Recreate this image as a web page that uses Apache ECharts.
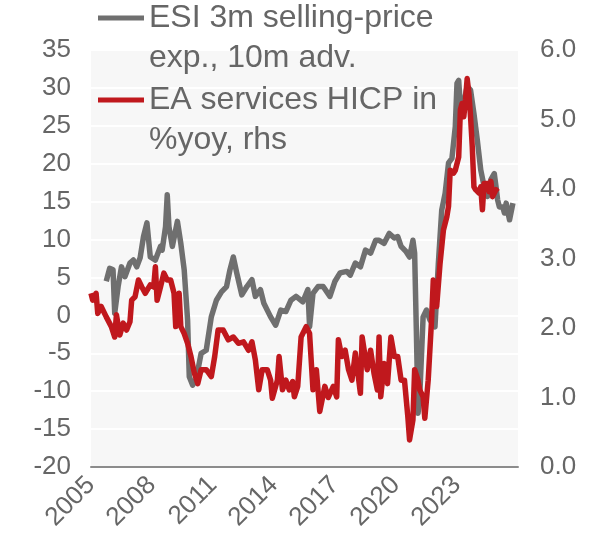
<!DOCTYPE html>
<html>
<head>
<meta charset="utf-8">
<script src="https://cdn.jsdelivr.net/npm/echarts@6/dist/echarts.min.js"></script>
<style>
  html, body { margin: 0; padding: 0; background: #fff; }
  #chart { width: 603px; height: 557px; }
</style>
</head>
<body>
<div id="chart"></div>
<script>
// x positions are months since Jan 2005
const yearTicks = [2005, 2008, 2011, 2014, 2017, 2020, 2023]

// ESI 3m selling-price expectations, advanced 10 months (lhs)
const esiMonths = [9, 11, 13, 14, 16, 18, 20, 23, 25, 27, 29, 31, 33, 35, 38, 41, 42, 44, 45, 46,
  48, 51, 53, 55, 57, 58, 60, 62, 65, 68, 71, 74, 77, 80, 82, 84, 86, 89, 92, 95,
  97, 100, 102, 106, 109, 112, 115, 118, 121, 125, 128, 129, 131, 134, 137, 141, 144, 147, 151, 153,
  156, 159, 162, 165, 168, 170, 173, 176, 179, 181, 183, 186, 188, 190, 191, 192, 193, 194, 196, 198,
  200, 203, 205, 207, 209, 211, 213, 215, 216, 217, 218, 220, 222, 224, 226, 228, 230, 232, 234, 236,
  238, 239, 240, 241, 243, 244, 245, 247, 249]
const esiValues = [4.5, 6.2, 6.0, 0.3, 3.8, 6.4, 5.1, 6.9, 7.3, 6.4, 7.6, 10.4, 12.2, 7.7, 7.3, 9.1, 8.6, 11.7, 15.9, 11.7,
  9.1, 12.4, 9.5, 6.0, -0.6, -8.1, -9.2, -8.5, -5.0, -4.6, -0.2, 2.0, 3.1, 3.8, 6.0, 7.7, 5.6, 2.7, 3.8, 4.7,
  2.5, 3.4, 1.6, -0.2, -1.3, 0.7, 0.5, 2.0, 2.5, 1.8, 3.4, -1.5, 2.9, 3.8, 3.8, 2.5, 4.5, 5.6, 5.8, 5.3,
  6.9, 6.4, 8.6, 8.2, 9.9, 9.9, 9.5, 10.8, 10.2, 10.4, 9.1, 8.4, 7.7, 9.9, 8.2, -1.9, -12.9, -10.7, -0.2, 0.7,
  -0.6, -1.5, 6.9, 13.9, 16.1, 20.1, 20.7, 24.9, 30.6, 31.0, 27.5, 28.0, 30.2, 29.7, 26.6, 23.1, 19.2, 17.0, 15.7, 17.9,
  18.7, 17.0, 15.2, 14.3, 14.3, 13.5, 14.8, 12.6, 14.8]

// EA services HICP, % yoy (rhs)
const hicpMonths = [0, 1, 3, 4, 6, 9, 12, 14, 15, 17, 19, 21, 23, 24, 26, 28, 30, 32, 35, 37,
  38, 39, 41, 43, 45, 47, 49, 50, 52, 53, 55, 57, 59, 61, 63, 65, 68, 71, 73, 75,
  78, 81, 84, 87, 90, 93, 95, 97, 99, 101, 104, 106, 107, 110, 111, 113, 115, 117, 119, 120,
  122, 124, 127, 129, 131, 133, 135, 138, 140, 143, 145, 146, 148, 150, 152, 154, 156, 159, 160, 163,
  165, 167, 169, 170, 171, 173, 175, 177, 179, 181, 183, 185, 187, 188, 190, 191, 193, 194, 196, 197,
  199, 201, 202, 204, 206, 208, 210, 211, 212, 214, 215, 217, 218, 219, 220, 221, 222, 223, 224, 225,
  226, 227, 229, 230, 231, 232, 234, 235, 236, 237, 239, 240]
const hicpValues = [2.50, 2.40, 2.50, 2.21, 2.31, 2.16, 2.02, 1.87, 2.19, 1.90, 2.07, 1.97, 2.09, 2.40, 2.45, 2.69, 2.59, 2.50, 2.62, 2.59,
  2.88, 2.40, 2.59, 2.79, 2.69, 2.69, 2.50, 2.02, 2.50, 2.02, 1.92, 1.78, 1.59, 1.35, 1.20, 1.40, 1.40, 1.30, 1.59, 1.97,
  1.97, 1.83, 1.87, 1.78, 1.80, 1.68, 1.80, 1.54, 1.11, 1.40, 1.40, 1.25, 0.99, 1.25, 1.59, 1.11, 1.25, 1.11, 1.23, 1.01,
  1.16, 1.87, 2.02, 1.92, 1.11, 1.40, 0.80, 1.16, 1.00, 1.16, 1.01, 1.83, 1.59, 1.68, 1.40, 1.25, 1.64, 1.06, 1.87, 1.40,
  1.68, 1.35, 1.11, 1.87, 1.01, 1.49, 1.20, 1.87, 1.59, 1.59, 1.25, 1.25, 0.72, 0.39, 0.68, 1.40, 1.25, 1.11, 1.01, 0.70,
  1.25, 2.12, 2.69, 2.31, 2.93, 3.41, 3.60, 3.75, 4.27, 4.23, 4.27, 4.46, 5.14, 5.23, 5.04, 5.28, 5.59, 5.38, 5.04, 4.61,
  4.03, 3.99, 3.94, 4.03, 3.70, 4.08, 4.08, 3.96, 4.11, 3.89, 3.99, 3.96]

const esiName = 'ESI 3m selling-price\nexp., 10m adv.'
const hicpName = 'EA services HICP in\n%yoy, rhs'

const font = '"Liberation Sans", Arial, sans-serif'
const textGrey = '#666666'

function pairs (xs, ys) {
  let out = []
  for (let i = 0; i < xs.length; i++) {
    out.push([xs[i], ys[i]])
  }
  return out
}

// the legend text is centred on its icon, so an empty first line
// puts the icon level with the first line of the name
function legendFor (name, top) {
  return {
    data: [name],
    left: 98,
    top: top,
    padding: 0,
    icon: 'rect',
    itemWidth: 46,
    itemHeight: 5,
    selectedMode: false,
    formatter: function (n) { return ' \n' + n },
    textStyle: {
      fontFamily: font,
      fontSize: 32,
      lineHeight: 40,
      color: textGrey
    }
  }
}

let chart = echarts.init(document.getElementById('chart'))
let option = {
  animation: false,
  backgroundColor: '#ffffff',
  legend: [
    legendFor(esiName, -42),
    legendFor(hicpName, 40)
  ],
  grid: {
    left: 91,
    right: 85,
    top: 50,
    bottom: 90,
    show: true,
    backgroundColor: '#f7f7f7',
    borderWidth: 0
  },
  xAxis: {
    type: 'value',
    min: 0,
    max: 252,
    interval: 36,
    axisLine: { show: true, onZero: false, lineStyle: { color: '#8c8c8c', width: 2 } },
    axisTick: { show: false },
    splitLine: { show: false },
    axisLabel: {
      rotate: 45,
      margin: 14,
      showMaxLabel: false,
      fontFamily: font,
      fontSize: 26,
      color: textGrey,
      formatter: function (v) {
        let year = 2005 + Math.round(v / 12)
        return yearTicks.indexOf(year) >= 0 ? String(year) : ''
      }
    }
  },
  yAxis: [
    {
      type: 'value',
      min: -20,
      max: 35,
      interval: 5,
      axisLine: { show: false },
      axisTick: { show: false },
      splitLine: { show: true, lineStyle: { color: '#ffffff', width: 2 } },
      axisLabel: { margin: 20, fontFamily: font, fontSize: 26, color: textGrey }
    },
    {
      type: 'value',
      min: 0,
      max: 6,
      interval: 1,
      position: 'right',
      axisLine: { show: false },
      axisTick: { show: false },
      splitLine: { show: false },
      axisLabel: {
        margin: 22,
        fontFamily: font,
        fontSize: 26,
        color: textGrey,
        formatter: function (v) { return v.toFixed(1) }
      }
    }
  ],
  series: [
    {
      name: esiName,
      type: 'line',
      yAxisIndex: 0,
      data: pairs(esiMonths, esiValues),
      showSymbol: false,
      color: '#6f6f6f',
      lineStyle: { width: 5.5, color: '#6f6f6f', join: 'round' }
    },
    {
      name: hicpName,
      type: 'line',
      yAxisIndex: 1,
      data: pairs(hicpMonths, hicpValues),
      showSymbol: false,
      color: '#c0181d',
      lineStyle: { width: 5.5, color: '#c0181d', join: 'round' }
    }
  ]
}
chart.setOption(option)
</script>
</body>
</html>
